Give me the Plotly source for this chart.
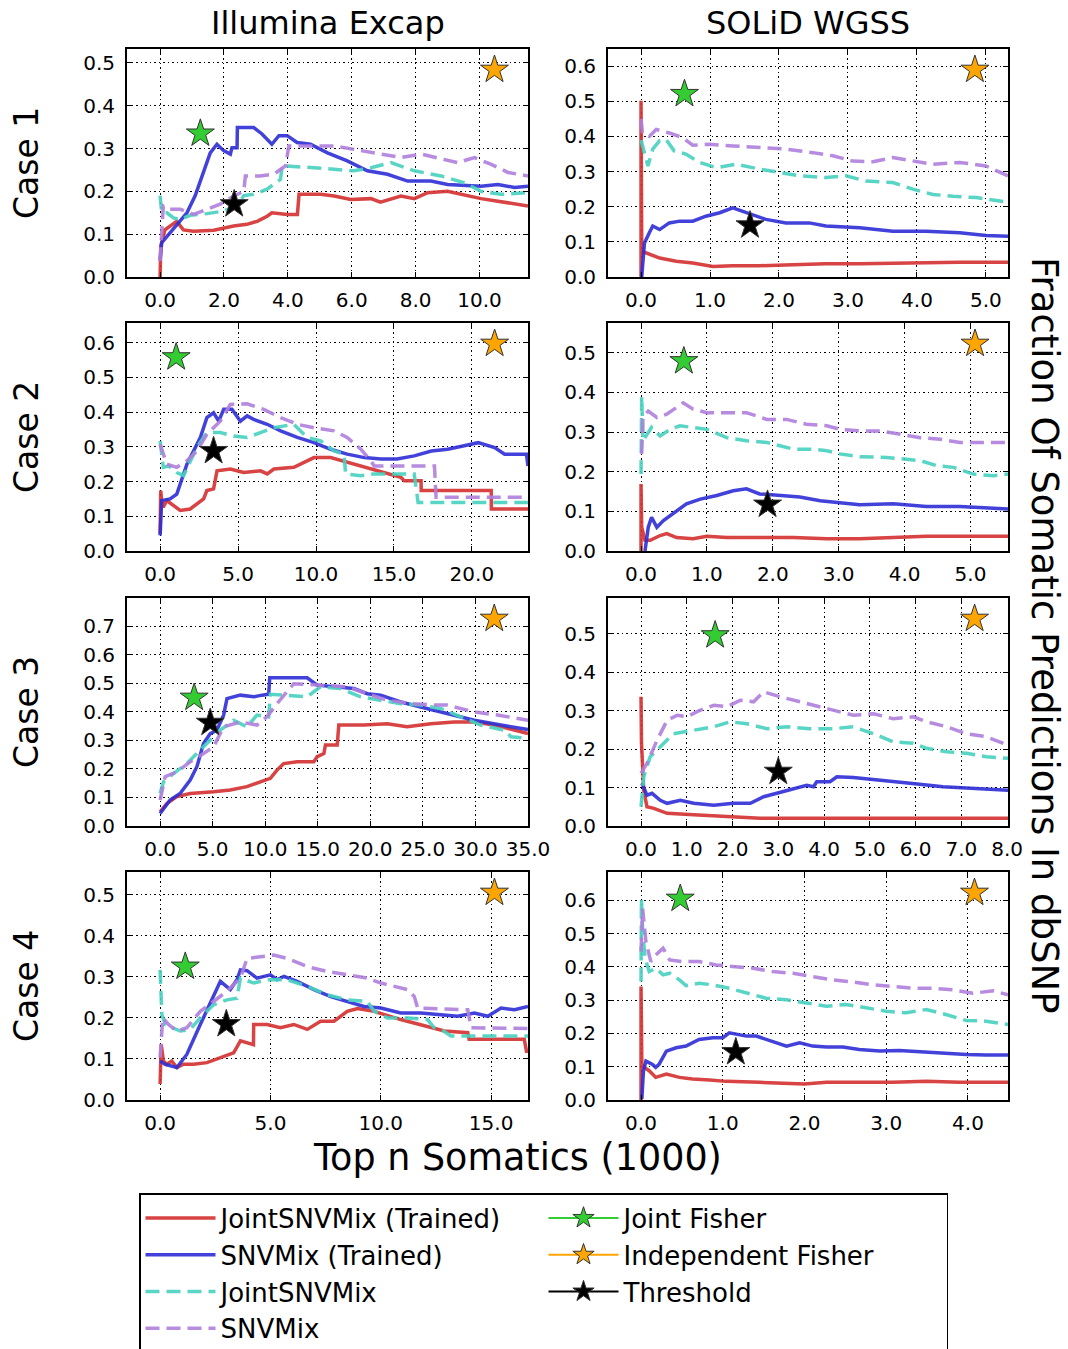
import plotly.graph_objects as go

# ---------------- data (x in thousands of top-n somatics, y = fraction in dbSNP) -------------
PLATFORMS = ["Illumina Excap", "SOLiD WGSS"]
CASES = ["Case 1", "Case 2", "Case 3", "Case 4"]
SERIES_NAMES = ["JointSNVMix (Trained)", "SNVMix (Trained)", "JointSNVMix", "SNVMix"]
MARKER_NAMES = ["Joint Fisher", "Independent Fisher", "Threshold"]
X_TICK_STEP = [2, 1, 5, 1, 5, 1, 5, 1]

# ---- Illumina Excap, Case 1
ILL1_JOINT_TRAINED = [(0, 0), (0.02, 0.072), (0.15, 0.11), (0.31, 0.119), (0.52, 0.13), (0.73, 0.11), (1.05, 0.107),
                      (1.68, 0.109), (2.3, 0.119), (2.72, 0.123), (3.04, 0.13), (3.35, 0.142), (3.5, 0.15), (3.98, 0.146),
                      (4.3, 0.146), (4.35, 0.193), (5.03, 0.193), (5.45, 0.189), (5.97, 0.181), (6.6, 0.183), (6.9, 0.175),
                      (7.54, 0.189), (7.96, 0.183), (8.38, 0.197), (9.0, 0.2), (10.05, 0.183), (11.52, 0.166)]
ILL1_SNVMIX_TRAINED = [(0.0, 0.04), (0.05, 0.08), (0.31, 0.103), (0.63, 0.13), (0.84, 0.15), (1.1, 0.19), (1.36, 0.244),
                       (1.57, 0.29), (1.78, 0.31), (1.99, 0.295), (2.2, 0.287), (2.25, 0.302), (2.41, 0.302), (2.42, 0.349),
                       (2.93, 0.349), (3.19, 0.334), (3.5, 0.31), (3.72, 0.33), (3.98, 0.33), (4.29, 0.314), (4.71, 0.31),
                       (5.24, 0.29), (5.86, 0.271), (6.49, 0.248), (7.12, 0.24), (7.75, 0.224), (8.48, 0.224), (9.0, 0.216),
                       (10.05, 0.212), (10.58, 0.216), (11.1, 0.209), (11.52, 0.212)]
ILL1_JOINT = [(0, 0.19), (0.05, 0.15), (0.21, 0.15), (0.42, 0.138), (0.63, 0.134), (0.94, 0.144), (1.47, 0.148),
              (1.99, 0.154), (2.41, 0.166), (2.62, 0.19), (2.93, 0.193), (3.35, 0.205), (3.77, 0.228), (3.82, 0.26),
              (4.82, 0.255), (5.45, 0.252), (6.07, 0.248), (6.6, 0.255), (7.23, 0.267), (7.96, 0.248), (8.8, 0.236),
              (9.53, 0.22), (10.05, 0.2), (10.68, 0.193), (11.52, 0.197)]
ILL1_SNVMIX = [(0, 0.037), (0.1, 0.166), (0.31, 0.158), (0.63, 0.158), (1.05, 0.146), (1.47, 0.158), (1.88, 0.17),
               (2.3, 0.189), (2.62, 0.2), (2.67, 0.236), (3.14, 0.236), (3.56, 0.24), (3.93, 0.26), (4.03, 0.306),
               (4.82, 0.306), (5.45, 0.306), (6.07, 0.298), (6.91, 0.287), (7.54, 0.279), (8.17, 0.287), (8.8, 0.275),
               (9.32, 0.267), (9.84, 0.279), (10.37, 0.263), (10.9, 0.244), (11.52, 0.236)]

# ---- SOLiD WGSS, Case 1
SOL1_JOINT_TRAINED = [(0, 0), (0.0, 0.502), (0.01, 0.1), (0.03, 0.069), (0.07, 0.069), (0.27, 0.054), (0.51, 0.045),
                      (0.75, 0.04), (1.04, 0.03), (1.33, 0.032), (1.72, 0.032), (2.2, 0.035), (2.68, 0.038), (3.17, 0.038),
                      (3.65, 0.04), (4.13, 0.042), (4.62, 0.042), (5.32, 0.042)]
SOL1_SNVMIX_TRAINED = [(0.01, 0), (0.05, 0.097), (0.12, 0.126), (0.17, 0.145), (0.27, 0.135), (0.41, 0.154), (0.56, 0.159),
                       (0.75, 0.159), (0.94, 0.173), (1.14, 0.183), (1.33, 0.197), (1.52, 0.183), (1.81, 0.164), (2.1, 0.154),
                       (2.44, 0.154), (2.68, 0.145), (3.17, 0.14), (3.65, 0.13), (4.13, 0.13), (4.62, 0.126), (5.0, 0.118),
                       (5.32, 0.116)]
SOL1_JOINT = [(0, 0.39), (0.05, 0.354), (0.1, 0.316), (0.17, 0.364), (0.27, 0.388), (0.36, 0.392), (0.48, 0.359),
              (0.65, 0.35), (0.85, 0.326), (1.09, 0.311), (1.38, 0.321), (1.72, 0.307), (2.0, 0.297), (2.3, 0.288),
              (2.68, 0.283), (2.97, 0.288), (3.26, 0.273), (3.65, 0.269), (3.94, 0.25), (4.23, 0.235), (4.52, 0.23),
              (4.86, 0.226), (5.32, 0.213)]
SOL1_SNVMIX = [(0, 0.45), (0.02, 0.41), (0.12, 0.4), (0.22, 0.42), (0.41, 0.41), (0.6, 0.397), (0.75, 0.375), (0.99, 0.378),
               (1.33, 0.373), (1.72, 0.369), (2.1, 0.364), (2.49, 0.354), (2.78, 0.345), (3.07, 0.33), (3.36, 0.328),
               (3.65, 0.34), (3.94, 0.33), (4.23, 0.321), (4.62, 0.326), (5.0, 0.316), (5.32, 0.288)]

# ---- Illumina Excap, Case 2
ILL2_JOINT_TRAINED = [(0, 0.05), (0.04, 0.174), (0.1, 0.145), (0.2, 0.126), (0.43, 0.145), (0.86, 0.131), (1.29, 0.117),
                      (1.93, 0.121), (2.36, 0.136), (2.79, 0.15), (3.0, 0.174), (3.43, 0.179), (3.65, 0.231), (4.51, 0.236),
                      (5.36, 0.226), (6.44, 0.231), (6.87, 0.222), (7.3, 0.236), (8.58, 0.241), (9.87, 0.269), (10.94, 0.269),
                      (15.45, 0.212), (15.67, 0.202), (16.74, 0.202), (16.75, 0.174), (21.24, 0.174), (21.25, 0.121),
                      (23.6, 0.121)]
ILL2_SNVMIX_TRAINED = [(0, 0.045), (0.1, 0.145), (0.64, 0.15), (1.07, 0.164), (1.72, 0.25), (2.15, 0.288), (2.58, 0.327),
                       (3.0, 0.384), (3.43, 0.398), (3.76, 0.374), (4.08, 0.408), (4.61, 0.408), (5.15, 0.374), (5.58, 0.389),
                       (6.0, 0.379), (6.87, 0.365), (7.73, 0.346), (8.8, 0.327), (9.87, 0.312), (10.94, 0.293), (12.0, 0.279),
                       (13.1, 0.269), (14.16, 0.265), (15.2, 0.265), (16.3, 0.274), (17.4, 0.288), (18.45, 0.293),
                       (19.5, 0.303), (20.4, 0.312), (21.46, 0.298), (22.1, 0.279), (23.5, 0.279), (23.6, 0.245)]
ILL2_JOINT = [(0, 0.317), (0.21, 0.241), (0.54, 0.245), (1.07, 0.226), (1.5, 0.217), (1.93, 0.26), (2.36, 0.298),
              (3.0, 0.341), (3.86, 0.341), (4.72, 0.331), (5.58, 0.327), (6.44, 0.341), (7.3, 0.355), (8.58, 0.365),
              (9.44, 0.327), (10.3, 0.317), (11.16, 0.288), (11.8, 0.279), (11.9, 0.222), (12.88, 0.217), (13.73, 0.222),
              (16.3, 0.222), (16.5, 0.164), (16.55, 0.14), (23.6, 0.14)]
ILL2_SNVMIX = [(0, 0.307), (0.43, 0.25), (1.07, 0.241), (1.72, 0.26), (2.36, 0.288), (3.0, 0.336), (3.86, 0.374),
               (4.5, 0.422), (5.58, 0.424), (6.65, 0.408), (7.73, 0.384), (8.8, 0.365), (9.87, 0.355), (11.16, 0.346),
               (12.0, 0.327), (12.88, 0.293), (13.52, 0.26), (13.73, 0.245), (17.6, 0.245), (17.7, 0.155), (23.6, 0.155)]

# ---- SOLiD WGSS, Case 2
SOL2_JOINT_TRAINED = [(0, 0), (0.0, 0.169), (0.01, 0.06), (0.06, 0.027), (0.14, 0.027), (0.29, 0.039), (0.39, 0.044),
                      (0.54, 0.034), (0.79, 0.031), (1.0, 0.037), (1.3, 0.034), (1.8, 0.034), (2.31, 0.034), (2.82, 0.031),
                      (3.32, 0.031), (3.83, 0.034), (4.33, 0.037), (4.84, 0.037), (5.57, 0.037)]
SOL2_SNVMIX_TRAINED = [(0.06, 0), (0.11, 0.06), (0.16, 0.085), (0.24, 0.06), (0.34, 0.077), (0.54, 0.102), (0.69, 0.119),
                       (0.9, 0.131), (1.15, 0.14), (1.4, 0.152), (1.6, 0.157), (1.8, 0.144), (2.11, 0.14), (2.41, 0.136),
                       (2.72, 0.127), (2.97, 0.123), (3.32, 0.117), (3.83, 0.119), (4.33, 0.112), (4.84, 0.112),
                       (5.57, 0.106)]
SOL2_JOINT = [(0, 0.194), (0.01, 0.391), (0.03, 0.278), (0.09, 0.295), (0.16, 0.312), (0.29, 0.29), (0.44, 0.307),
              (0.59, 0.316), (0.79, 0.312), (1.0, 0.307), (1.3, 0.286), (1.6, 0.278), (1.91, 0.274), (2.31, 0.257),
              (2.62, 0.257), (2.82, 0.253), (3.02, 0.245), (3.32, 0.238), (3.73, 0.236), (4.03, 0.232), (4.24, 0.228),
              (4.49, 0.215), (4.74, 0.211), (5.04, 0.194), (5.35, 0.19), (5.57, 0.194)]
SOL2_SNVMIX = [(0.01, 0.245), (0.03, 0.337), (0.11, 0.353), (0.24, 0.337), (0.39, 0.345), (0.54, 0.362), (0.64, 0.374),
               (0.79, 0.358), (1.0, 0.349), (1.3, 0.349), (1.6, 0.349), (1.91, 0.332), (2.21, 0.332), (2.51, 0.32),
               (2.82, 0.316), (3.02, 0.307), (3.32, 0.303), (3.63, 0.303), (3.93, 0.295), (4.24, 0.286), (4.54, 0.282),
               (4.84, 0.274), (5.15, 0.274), (5.57, 0.274)]

# ---- Illumina Excap, Case 3
ILL3_JOINT_TRAINED = [(0, 0.05), (0.64, 0.079), (1.59, 0.103), (2.86, 0.114), (5.09, 0.12), (6.68, 0.126), (8.26, 0.138),
                      (9.54, 0.155), (10.49, 0.167), (11.12, 0.196), (11.76, 0.219), (13.03, 0.225), (14.62, 0.225),
                      (14.94, 0.243), (15.58, 0.254), (15.73, 0.284), (16.85, 0.284), (17.0, 0.354), (19.39, 0.354),
                      (21.6, 0.359), (23.5, 0.348), (25.75, 0.359), (27.97, 0.365), (29.88, 0.365), (31.79, 0.354),
                      (35.0, 0.324)]
ILL3_SNVMIX_TRAINED = [(0, 0.044), (0.95, 0.091), (1.9, 0.114), (2.86, 0.161), (3.5, 0.208), (4.13, 0.289), (4.77, 0.324),
                       (5.4, 0.336), (6.04, 0.389), (6.36, 0.447), (7.63, 0.459), (8.9, 0.453), (9.7, 0.459), (10.33, 0.462),
                       (10.43, 0.52), (13.99, 0.52), (14.94, 0.494), (17.16, 0.488), (18.44, 0.482), (19.71, 0.464),
                       (20.98, 0.459), (22.89, 0.435), (24.79, 0.418), (27.34, 0.394), (29.88, 0.371), (32.42, 0.354),
                       (35.0, 0.338)]
ILL3_JOINT = [(0, 0.114), (0.32, 0.155), (1.27, 0.184), (2.54, 0.219), (3.81, 0.266), (4.77, 0.301), (5.72, 0.336),
              (6.99, 0.371), (8.26, 0.348), (9.22, 0.389), (10.33, 0.383), (10.49, 0.462), (12.08, 0.459), (13.99, 0.453),
              (15.26, 0.488), (17.16, 0.482), (19.07, 0.453), (20.98, 0.441), (22.89, 0.429), (24.79, 0.424), (26.7, 0.412),
              (28.6, 0.383), (30.51, 0.354), (32.74, 0.336), (33.38, 0.313), (35.0, 0.307)]
ILL3_SNVMIX = [(0, 0.091), (0.48, 0.173), (1.59, 0.19), (2.86, 0.225), (4.13, 0.254), (5.09, 0.278), (6.04, 0.348),
               (7.63, 0.365), (9.22, 0.354), (10.17, 0.383), (11.12, 0.429), (12.71, 0.499), (15.26, 0.494), (17.8, 0.488),
               (19.71, 0.464), (21.61, 0.441), (24.16, 0.429), (26.07, 0.424), (27.34, 0.424), (29.88, 0.4), (32.1, 0.389),
               (35.0, 0.371)]

# ---- SOLiD WGSS, Case 3
SOL3_JOINT_TRAINED = [(0, 0.336), (0.01, 0.215), (0.06, 0.093), (0.13, 0.05), (0.28, 0.046), (0.57, 0.033), (1.15, 0.029),
                      (1.88, 0.024), (2.6, 0.02), (4.06, 0.02), (5.51, 0.02), (8.02, 0.02)]
SOL3_SNVMIX_TRAINED = [(0.02, 0.111), (0.13, 0.08), (0.24, 0.085), (0.42, 0.067), (0.57, 0.059), (0.86, 0.067), (1.15, 0.059),
                       (1.59, 0.054), (2.02, 0.059), (2.39, 0.059), (2.68, 0.076), (2.97, 0.085), (3.26, 0.093), (3.62, 0.106),
                       (3.77, 0.102), (3.84, 0.115), (4.13, 0.115), (4.28, 0.128), (4.64, 0.126), (5.15, 0.119), (5.88, 0.111),
                       (6.6, 0.102), (7.33, 0.098), (8.02, 0.093)]
SOL3_JOINT = [(0, 0.05), (0.06, 0.128), (0.2, 0.18), (0.42, 0.206), (0.71, 0.24), (1.15, 0.249), (1.59, 0.258),
              (1.95, 0.271), (2.31, 0.266), (2.75, 0.253), (3.19, 0.258), (3.69, 0.253), (4.2, 0.253), (4.64, 0.258),
              (5.08, 0.24), (5.51, 0.219), (5.95, 0.215), (6.24, 0.202), (6.68, 0.193), (7.11, 0.189), (7.55, 0.18),
              (8.02, 0.176)]
SOL3_SNVMIX = [(0, 0.137), (0.13, 0.163), (0.35, 0.223), (0.57, 0.275), (0.79, 0.288), (1.0, 0.284), (1.29, 0.301),
               (1.59, 0.314), (1.88, 0.31), (2.17, 0.327), (2.46, 0.323), (2.68, 0.349), (3.04, 0.336), (3.48, 0.323),
               (3.91, 0.31), (4.35, 0.297), (4.64, 0.288), (5.08, 0.292), (5.51, 0.279), (5.95, 0.284), (6.24, 0.271),
               (6.68, 0.258), (7.11, 0.24), (7.55, 0.232), (8.02, 0.21)]

# ---- Illumina Excap, Case 4
ILL4_JOINT_TRAINED = [(0, 0.039), (0.05, 0.135), (0.15, 0.095), (0.3, 0.087), (0.53, 0.095), (0.76, 0.079), (1.06, 0.087),
                      (1.52, 0.087), (2.12, 0.091), (2.73, 0.103), (3.33, 0.115), (3.64, 0.144), (4.23, 0.135), (4.24, 0.184),
                      (4.85, 0.184), (5.45, 0.176), (6.06, 0.184), (6.67, 0.172), (7.27, 0.192), (7.88, 0.192), (8.48, 0.216),
                      (8.94, 0.223), (9.7, 0.216), (10.9, 0.196), (11.82, 0.184), (12.42, 0.174), (12.88, 0.168),
                      (13.94, 0.164), (14.0, 0.148), (16.5, 0.148), (16.6, 0.119), (16.67, 0.119)]
ILL4_SNVMIX_TRAINED = [(0, 0.095), (0.23, 0.087), (0.76, 0.079), (1.21, 0.111), (1.82, 0.184), (2.42, 0.256), (2.73, 0.289),
                       (3.18, 0.269), (3.48, 0.293), (3.64, 0.317), (3.94, 0.315), (4.39, 0.297), (5.0, 0.305), (5.3, 0.293),
                       (5.61, 0.301), (6.21, 0.289), (6.97, 0.269), (7.73, 0.252), (8.48, 0.24), (9.24, 0.228), (10.0, 0.224),
                       (10.9, 0.212), (11.82, 0.212), (12.73, 0.208), (13.48, 0.204), (14.24, 0.212), (14.85, 0.204),
                       (15.45, 0.224), (16.06, 0.22), (16.67, 0.228)]
ILL4_JOINT = [(0, 0.317), (0.08, 0.208), (0.23, 0.184), (0.53, 0.176), (0.91, 0.168), (1.36, 0.172), (1.82, 0.2),
              (2.42, 0.232), (3.03, 0.244), (3.48, 0.248), (3.64, 0.297), (4.24, 0.285), (4.85, 0.293), (5.76, 0.293),
              (6.67, 0.277), (7.58, 0.256), (8.48, 0.244), (9.39, 0.24), (9.7, 0.216), (10.3, 0.2), (11.21, 0.2),
              (12.12, 0.196), (12.42, 0.176), (12.73, 0.172), (13.18, 0.156), (16.67, 0.156)]
ILL4_SNVMIX = [(0, 0.103), (0.12, 0.2), (0.38, 0.184), (0.76, 0.168), (1.21, 0.176), (1.82, 0.216), (2.42, 0.24),
               (3.03, 0.265), (3.64, 0.297), (3.94, 0.345), (4.55, 0.349), (5.15, 0.353), (5.76, 0.345), (6.67, 0.325),
               (7.58, 0.313), (8.48, 0.305), (9.39, 0.297), (10.0, 0.285), (11.21, 0.269), (11.52, 0.252), (11.67, 0.224),
               (13.94, 0.22), (14.09, 0.176), (16.67, 0.174)]

# ---- SOLiD WGSS, Case 4
SOL4_JOINT_TRAINED = [(0, 0), (0.0, 0.341), (0.01, 0.107), (0.04, 0.098), (0.1, 0.088), (0.18, 0.068), (0.31, 0.078),
                      (0.47, 0.068), (0.63, 0.063), (0.84, 0.06), (1.04, 0.056), (1.45, 0.053), (1.86, 0.05), (2.0, 0.048),
                      (2.27, 0.053), (2.67, 0.053), (3.08, 0.053), (3.49, 0.056), (3.9, 0.053), (4.49, 0.053)]
SOL4_SNVMIX_TRAINED = [(0.01, 0.003), (0.03, 0.088), (0.06, 0.117), (0.14, 0.107), (0.18, 0.098), (0.22, 0.107),
                       (0.31, 0.147), (0.43, 0.157), (0.55, 0.162), (0.71, 0.182), (0.88, 0.187), (1.0, 0.187), (1.08, 0.202),
                       (1.29, 0.192), (1.41, 0.192), (1.61, 0.177), (1.78, 0.162), (1.94, 0.172), (2.1, 0.162), (2.27, 0.159),
                       (2.47, 0.159), (2.67, 0.152), (2.92, 0.147), (3.16, 0.149), (3.41, 0.145), (3.69, 0.139),
                       (3.98, 0.137), (4.22, 0.135), (4.49, 0.135)]
SOL4_JOINT = [(0, 0.356), (0.005, 0.605), (0.02, 0.505), (0.05, 0.426), (0.1, 0.386), (0.18, 0.396), (0.27, 0.376),
              (0.35, 0.381), (0.47, 0.361), (0.55, 0.344), (0.71, 0.351), (0.88, 0.346), (1.08, 0.336), (1.29, 0.321),
              (1.53, 0.306), (1.78, 0.301), (2.02, 0.292), (2.27, 0.282), (2.51, 0.287), (2.76, 0.277), (3.0, 0.267),
              (3.24, 0.262), (3.49, 0.272), (3.73, 0.257), (3.98, 0.239), (4.22, 0.237), (4.49, 0.227)]
SOL4_SNVMIX = [(0, 0.446), (0.02, 0.575), (0.06, 0.476), (0.12, 0.416), (0.18, 0.436), (0.27, 0.456), (0.35, 0.421),
               (0.51, 0.416), (0.71, 0.416), (0.92, 0.406), (1.12, 0.401), (1.37, 0.396), (1.61, 0.386), (1.86, 0.381),
               (2.1, 0.371), (2.35, 0.361), (2.55, 0.356), (2.84, 0.346), (3.08, 0.341), (3.33, 0.336), (3.57, 0.336),
               (3.82, 0.331), (4.06, 0.321), (4.31, 0.328), (4.49, 0.316)]

# ---- single-point methods, one (x, y) per case
ILL_JOINT_FISHER = [(1.26, 0.335), (1.03, 0.558), (3.24, 0.45), (1.14, 0.325)]
ILL_INDEP_FISHER = [(10.47, 0.484), (21.46, 0.597), (31.79, 0.727), (15.15, 0.505)]
ILL_THRESHOLD = [(2.32, 0.17), (3.43, 0.288), (4.77, 0.362), (3.0, 0.185)]
SOL_JOINT_FISHER = [(0.63, 0.521), (0.65, 0.479), (1.62, 0.496), (0.48, 0.605)]
SOL_INDEP_FISHER = [(4.84, 0.59), (5.07, 0.523), (7.29, 0.539), (4.08, 0.623)]
SOL_THRESHOLD = [(1.58, 0.147), (1.92, 0.117), (3.0, 0.141), (1.16, 0.144)]

CURVES = [
    [ILL1_JOINT_TRAINED, ILL1_SNVMIX_TRAINED, ILL1_JOINT, ILL1_SNVMIX],
    [SOL1_JOINT_TRAINED, SOL1_SNVMIX_TRAINED, SOL1_JOINT, SOL1_SNVMIX],
    [ILL2_JOINT_TRAINED, ILL2_SNVMIX_TRAINED, ILL2_JOINT, ILL2_SNVMIX],
    [SOL2_JOINT_TRAINED, SOL2_SNVMIX_TRAINED, SOL2_JOINT, SOL2_SNVMIX],
    [ILL3_JOINT_TRAINED, ILL3_SNVMIX_TRAINED, ILL3_JOINT, ILL3_SNVMIX],
    [SOL3_JOINT_TRAINED, SOL3_SNVMIX_TRAINED, SOL3_JOINT, SOL3_SNVMIX],
    [ILL4_JOINT_TRAINED, ILL4_SNVMIX_TRAINED, ILL4_JOINT, ILL4_SNVMIX],
    [SOL4_JOINT_TRAINED, SOL4_SNVMIX_TRAINED, SOL4_JOINT, SOL4_SNVMIX],
]
POINTS = [[ILL_JOINT_FISHER, ILL_INDEP_FISHER, ILL_THRESHOLD],
          [SOL_JOINT_FISHER, SOL_INDEP_FISHER, SOL_THRESHOLD]]

# ---------------- styling ----------------
FONT = "DejaVu Sans"
LINE_COLORS = ["#d42f2f", "#2e2ed6", "#48d1c0", "#b07fdc"]
LINE_DASH = ["solid", "solid", "14px,7px", "14px,7px"]
STAR_COLORS = ["#33cc33", "#ffa500", "#000000"]
LEGEND_RANK = {0: 1, 1: 3, 2: 5, 3: 7}
STAR_RANK = {0: 2, 1: 4, 2: 6}

W, H = 1068, 1349
COL_X = [(127, 528), (608, 1008)]
ROW_Y = [(49, 277), (323, 551), (598, 826), (872, 1100)]

fig = go.Figure()
layout_axes = {}

for k in range(8):
    r, c = divmod(k, 2)
    xa = "x" if k == 0 else f"x{k + 1}"
    ya = "y" if k == 0 else f"y{k + 1}"
    curves = CURVES[k]
    for s, pts in enumerate(curves):
        fig.add_trace(go.Scatter(
            x=[p[0] for p in pts], y=[p[1] for p in pts], mode="lines",
            name=SERIES_NAMES[s], legendrank=LEGEND_RANK[s], showlegend=(k == 0),
            line=dict(color=LINE_COLORS[s], width=3.5, dash=LINE_DASH[s]), opacity=0.9,
            xaxis=xa, yaxis=ya, hoverinfo="skip"))
    for m in range(3):
        px, py = POINTS[c][m][r]
        fig.add_trace(go.Scatter(
            x=[px], y=[py], mode="lines+markers" if k == 0 else "markers",
            name=MARKER_NAMES[m], legendrank=STAR_RANK[m], showlegend=(k == 0),
            line=dict(color=STAR_COLORS[m], width=2),
            marker=dict(symbol="star", size=21, color=STAR_COLORS[m],
                        line=dict(color="#333333", width=1)),
            xaxis=xa, yaxis=ya, hoverinfo="skip"))

    xmax = max(p[0] for pts in curves for p in pts)
    ymax = 1.1 * max(POINTS[c][m][r][1] for m in range(3))
    x0, x1 = COL_X[c]
    y0, y1 = ROW_Y[r]
    common = dict(showline=True, linecolor="black", linewidth=1.8, mirror="ticks",
                  ticks="inside", ticklen=5, tickcolor="black",
                  showgrid=True, gridcolor="black", griddash="1.5px,3px", gridwidth=1,
                  zeroline=False, tickformat=".1f",
                  tickfont=dict(family=FONT, size=20, color="black"))
    layout_axes["xaxis" if k == 0 else f"xaxis{k + 1}"] = dict(
        domain=[x0 / W, x1 / W], anchor=ya, range=[-0.09 * xmax, xmax],
        dtick=X_TICK_STEP[k], tick0=0, ticklabelstandoff=4, **common)
    layout_axes["yaxis" if k == 0 else f"yaxis{k + 1}"] = dict(
        domain=[1 - y1 / H, 1 - y0 / H], anchor=xa, range=[0, ymax],
        dtick=0.1, tick0=0, ticklabelstandoff=6, **common)

annotations = []
for c, name in enumerate(PLATFORMS):
    annotations.append(dict(text=name, x=(COL_X[c][0] + COL_X[c][1]) / 2 / W, y=1 - 23 / H,
                            xref="paper", yref="paper", showarrow=False, xanchor="center", yanchor="middle",
                            font=dict(family=FONT, size=32, color="black")))
for r, name in enumerate(CASES):
    annotations.append(dict(text=name, x=26 / W, y=1 - (ROW_Y[r][0] + ROW_Y[r][1]) / 2 / H,
                            xref="paper", yref="paper", showarrow=False, textangle=-90,
                            xanchor="center", yanchor="middle",
                            font=dict(family=FONT, size=33, color="black")))
annotations.append(dict(text="Top n Somatics (1000)", x=517 / W, y=1 - 1157 / H, xref="paper", yref="paper",
                        showarrow=False, xanchor="center", yanchor="middle",
                        font=dict(family=FONT, size=36.5, color="black")))
annotations.append(dict(text="Fraction Of Somatic Predictions In dbSNP", x=1045 / W, y=1 - 635 / H,
                        xref="paper", yref="paper", showarrow=False, textangle=90,
                        xanchor="center", yanchor="middle",
                        font=dict(family=FONT, size=37, color="black")))

fig.update_layout(
    width=W, height=H, margin=dict(l=0, r=0, t=0, b=0, autoexpand=False),
    paper_bgcolor="white", plot_bgcolor="white",
    font=dict(family=FONT, color="black"),
    annotations=annotations,
    legend=dict(orientation="h", x=139 / W, y=1 - 1193 / H, xanchor="left", yanchor="top",
                entrywidth=318, entrywidthmode="pixels",
                bgcolor="white", bordercolor="black", borderwidth=1.5,
                font=dict(family=FONT, size=26, color="black"), itemwidth=70),
    **layout_axes,
)

fig.write_html("out.html")
